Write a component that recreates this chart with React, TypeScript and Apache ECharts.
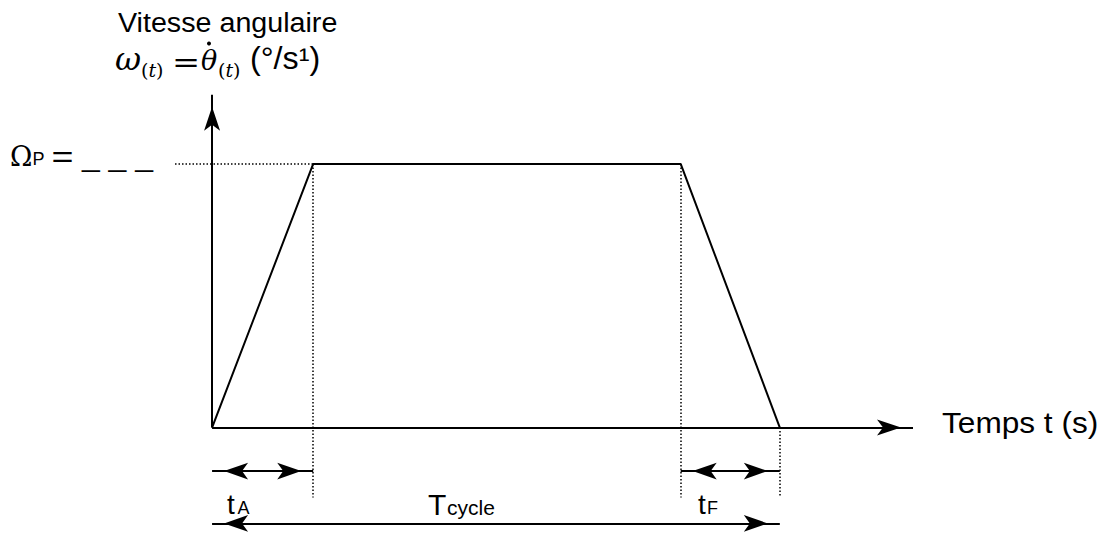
import React, { useEffect, useRef } from 'react';
import * as echarts from 'echarts';

// ---- Data (time in arbitrary units, angular speed in arbitrary units) ----
const TEMPS = [0, 1.01, 4.68, 5.67];
const VITESSE = [0, 8, 8, 0];
const OMEGA_P = 8;
const T_A = 1.01;
const T_DECEL = 4.68;
const T_CYCLE = 5.67;
const X_RANGE = [-0.5, 7];
const Y_RANGE = [-3.2, 10.1];
const REPERE_GAUCHE = -0.37;
const REPERE_BAS = -2.12;
const COTE_HAUT = -1.32;
const COTE_BAS = -2.91;

const TITRE_Y = 'Vitesse angulaire';
const TITRE_X = 'Temps t (s)';

const BLACK = '#000';
const SANS = 'Liberation Sans, Arial, sans-serif';
const SERIF = 'DejaVu Serif, serif';

const solid = { color: BLACK, width: 2, type: 'solid' as const };
const dotted = { color: BLACK, width: 1.5, type: [1.5, 2] as number[] };
const none = { symbol: 'none' };
const axisArrow = { symbol: 'arrow', symbolSize: [12, 24], symbolOffset: [0, 12] };
const coteArrow = { symbol: 'arrow', symbolSize: [12.5, 24], symbolOffset: [0, 12] };

function buildOption() {
  const markData: any[] = [
    // axes
    [{ coord: [0, 0], ...none, lineStyle: solid }, { coord: [0, Y_RANGE[1]], ...axisArrow }],
    [{ coord: [0, 0], ...none, lineStyle: solid }, { coord: [X_RANGE[1], 0], ...axisArrow }],
    // dotted guides
    [{ coord: [REPERE_GAUCHE, OMEGA_P], ...none, lineStyle: dotted }, { coord: [T_A, OMEGA_P], ...none }],
    [{ coord: [T_A, OMEGA_P], ...none, lineStyle: dotted }, { coord: [T_A, REPERE_BAS], ...none }],
    [{ coord: [T_DECEL, OMEGA_P], ...none, lineStyle: dotted }, { coord: [T_DECEL, REPERE_BAS], ...none }],
    [{ coord: [T_CYCLE, 0], ...none, lineStyle: dotted }, { coord: [T_CYCLE, REPERE_BAS], ...none }],
    // dimension arrows
    [{ coord: [0, COTE_HAUT], ...coteArrow, lineStyle: solid }, { coord: [T_A, COTE_HAUT], ...coteArrow }],
    [{ coord: [T_DECEL, COTE_HAUT], ...coteArrow, lineStyle: solid }, { coord: [T_CYCLE, COTE_HAUT], ...coteArrow }],
    [{ coord: [0, COTE_BAS], ...coteArrow, lineStyle: solid }, { coord: [T_CYCLE, COTE_BAS], ...coteArrow }],
  ];

  const txt = (x: number, y: number, text: string, fontSize: number, fontFamily = SANS, scaleX = 1, extra: any = {}) => ({
    type: 'text',
    x,
    y,
    scaleX,
    silent: true,
    style: { text, fontSize, fontFamily, fill: BLACK, align: 'left', verticalAlign: 'middle', ...extra },
  });

  const subRich = {
    p: { fontFamily: SERIF, fontSize: 19, fill: BLACK },
    i: { fontFamily: SERIF, fontStyle: 'italic', fontSize: 19, fill: BLACK },
  };
  const sub = (x: number, y: number) => ({
    type: 'text',
    x,
    y,
    silent: true,
    style: { text: '{p|(}{i|t}{p|)}', rich: subRich, fill: BLACK, align: 'left', verticalAlign: 'middle' },
  });

  const graphic: any[] = [
    txt(118, 22.5, TITRE_Y, 28, SANS, 1.024),
    // ω(t) = θ̇(t) (°/s¹)
    txt(115, 58.6, 'ω', 32, SERIF, 1, { fontStyle: 'italic' }),
    sub(141, 69.6),
    txt(172, 62, '=', 28, SERIF, 1.2),
    txt(201, 60, 'θ', 27, SERIF, 1, { fontStyle: 'italic' }),
    { type: 'circle', silent: true, shape: { cx: 209, cy: 43.5, r: 2 }, style: { fill: BLACK } },
    sub(218, 69.6),
    txt(250, 57.8, '(°/s¹)', 31, SANS, 1.04),
    // Ωp = _ _ _
    txt(10, 156.5, 'Ω', 27, SERIF),
    txt(32.5, 159.3, 'P', 18, SANS),
    txt(51.4, 157, '=', 29, SANS, 1.3),
    txt(82, 156.2, '_ _ _', 28, SANS, 1.14),
    // axis title
    txt(942, 423, TITRE_X, 29, SANS, 1.09),
    // dimension labels
    txt(227, 504.2, 't', 28, SANS),
    txt(237.5, 507.7, 'A', 18, SANS),
    txt(428, 504.5, 'T', 30, SANS),
    txt(447, 507.6, 'cycle', 21, SANS),
    txt(698, 504.2, 't', 28, SANS),
    txt(707, 507.7, 'F', 18, SANS),
  ];

  return {
    animation: false,
    backgroundColor: '#fff',
    color: [BLACK],
    grid: { left: 162, top: 94.7, width: 751, height: 438.9, containLabel: false },
    xAxis: { type: 'value', min: X_RANGE[0], max: X_RANGE[1], show: false },
    yAxis: { type: 'value', min: Y_RANGE[0], max: Y_RANGE[1], show: false },
    series: [
      {
        type: 'line',
        name: 'ω(t)',
        data: TEMPS.map((t, i) => [t, VITESSE[i]]),
        symbol: 'none',
        clip: false,
        silent: true,
        lineStyle: { color: BLACK, width: 2 },
        itemStyle: { color: BLACK },
        z: 3,
        markLine: {
          silent: true,
          animation: false,
          label: { show: false },
          emphasis: { disabled: true },
          itemStyle: { color: BLACK },
          lineStyle: solid,
          data: markData,
        },
      },
    ],
    graphic,
  };
}

export default function App() {
  const ref = useRef<HTMLDivElement>(null);
  useEffect(() => {
    document.body.style.margin = '0';
    const chart = echarts.init(ref.current as HTMLDivElement, null, { renderer: 'svg' });
    chart.setOption(buildOption() as any);
    return () => chart.dispose();
  }, []);
  return <div ref={ref} style={{ width: 1112, height: 533 }} />;
}
